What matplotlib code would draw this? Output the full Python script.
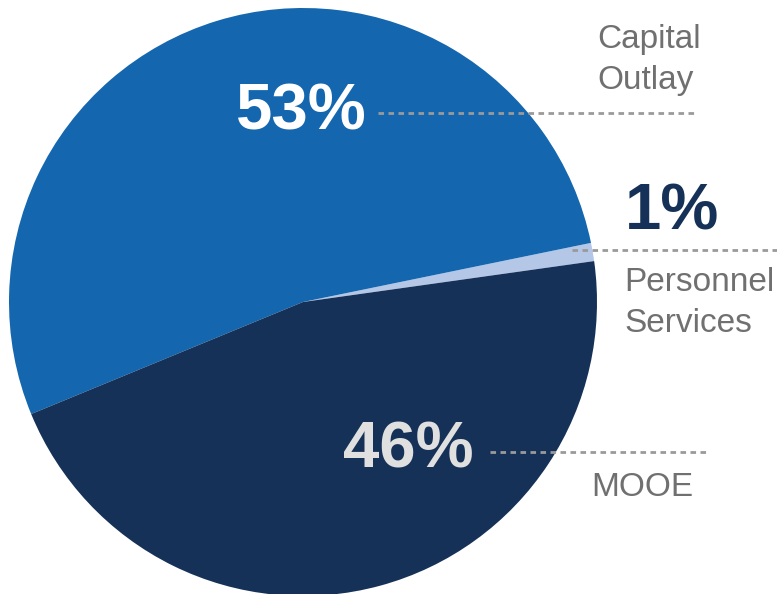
import matplotlib.pyplot as plt

plt.rcParams["font.family"] = ["Liberation Sans", "DejaVu Sans"]

# budget shares, in the order they are drawn around the pie
categories = ["Personnel\nServices", "Capital\nOutlay", "MOOE"]
shares = [1, 53, 46]
colors = ["#B4C7E7", "#1467AF", "#163157"]

W, H = 777, 594


def px(y):
    """Flip a pixel row into the axis coordinate."""
    return H - y


def draw_pie(ax):
    ax.pie(shares, colors=colors, startangle=8, counterclock=True,
           center=(303, px(302)), radius=294,
           wedgeprops={"linewidth": 0})


def draw_labels(ax):
    leader = dict(color="#9A9A9A", linewidth=2.0, linestyle=(0, (2.0, 1.6)))
    label = dict(color="#707070", fontsize=24, ha="left", va="center",
                 linespacing=1.45)
    pct = dict(fontsize=47, fontweight="bold", ha="center", va="center")

    # Capital Outlay
    ax.text(301, px(112), f"{shares[1]}%", color="white", **pct)
    ax.plot([378, 695], [px(113), px(113)], **leader)
    ax.text(597, px(60), categories[1], **label)

    # Personnel Services
    ax.text(672, px(212), f"{shares[0]}%", color="#163157", **pct)
    ax.plot([572, 777], [px(250), px(250)], **leader)
    ax.text(624, px(303), categories[0], **label)

    # MOOE
    ax.text(408, px(450), f"{shares[2]}%", color="#E0E0E0", **pct)
    ax.plot([490, 708], [px(452), px(452)], **leader)
    ax.text(591, px(488), categories[2], **label)


def main():
    fig = plt.figure(figsize=(W / 100, H / 100), dpi=100)
    ax = fig.add_axes([0, 0, 1, 1])
    draw_pie(ax)
    draw_labels(ax)
    ax.set_xlim(0, W)
    ax.set_ylim(0, H)
    ax.set_aspect("equal")
    ax.axis("off")
    fig.savefig("out.png", dpi=100)


if __name__ == "__main__":
    main()
